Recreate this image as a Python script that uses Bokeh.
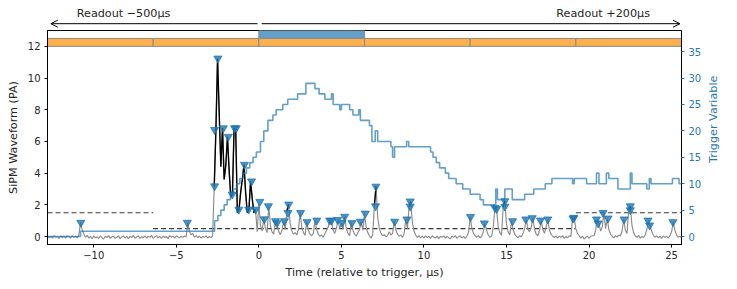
import math
import numpy as np
from bokeh.plotting import figure
from bokeh.layouts import column, row
from bokeh.models import Range1d, LinearAxis, Arrow, OpenHead, Label, FixedTicker
from bokeh.embed import file_html
from bokeh.resources import INLINE

# ---------------- data ----------------
T_START = -12.8          # first sample time (us)
T_STEP = 0.1             # sample spacing (us)
# SiPM waveform samples (PA), one row per microsecond
wave_rows = [
    [0.05, -0.08, 0.02, -0.10, 0.06, -0.04, 0.00, -0.12, 0.04, -0.06],
    [0.03, -0.10, 0.05, -0.02, -0.09, 0.04, -0.05, 0.02, -0.08, 0.10],
    [0.88, 0.42, 0.18, -0.05, 0.08, -0.10, 0.02, -0.14, 0.05, -0.07],
    [-0.02, -0.12, 0.04, -0.08, -0.15, 0.02, -0.06, 0.06, -0.10, -0.03],
    [0.03, -0.11, -0.04, 0.05, -0.13, -0.02, 0.04, -0.09, 0.01, -0.14],
    [0.02, -0.06, 0.07, -0.10, -0.03, 0.05, -0.12, 0.00, -0.07, 0.04],
    [-0.09, 0.03, -0.05, 0.08, -0.11, -0.02, 0.05, -0.08, 0.02, -0.12],
    [0.04, -0.06, 0.01, -0.13, 0.06, -0.04, 0.03, -0.10, 0.05, -0.02],
    [-0.08, 0.02, -0.05, 0.04, -0.02, 0.88, 0.30, 0.12, 0.20, -0.04],
    [0.06, -0.07, 0.03, -0.10, 0.02, -0.05, 0.04, -0.09, 0.01, -0.06],
    [0.05, 3.18, 6.74, 11.24, 7.80, 4.40, 6.84, 3.60, 4.50, 6.30],
    [4.20, 2.50, 2.66, 6.84, 6.70, 1.50, 1.71, 2.80, 3.60, 4.54],
    [2.80, 1.50, 1.71, 3.49, 2.40, 1.50, 1.71, 0.30, 2.13, 0.70],
    [0.35, 1.19, 0.50, 0.25, 1.92, 0.70, 0.30, 0.15, 0.98, 0.85],
    [0.35, 0.12, 0.40, 0.98, 0.45, 1.60, 2.03, 0.80, 0.35, 0.15],
    [0.25, 0.10, 0.45, 1.50, 0.60, 0.25, 0.08, 0.92, 0.40, 0.15],
    [0.05, 0.20, 1.02, 0.45, 0.15, 0.02, 0.10, -0.05, 0.20, 0.40],
    [0.60, 1.02, 1.00, 0.40, 0.20, 0.55, 1.04, 0.50, 0.88, 0.45],
    [1.26, 0.50, 0.20, 0.05, 0.88, 0.40, 0.15, 0.02, 0.25, 0.45],
    [0.95, 0.40, 1.46, 0.60, 0.25, 0.05, -0.10, 0.15, 1.97, 3.18],
    [1.20, 0.50, 0.20, 0.05, 0.12, -0.02, 0.08, 0.30, 0.10, 0.20],
    [0.98, 0.40, 0.15, 0.02, 0.10, -0.05, 0.20, 1.09, 0.50, 1.90],
    [2.20, 0.90, 0.35, 0.10, -0.05, 0.05, -0.08, 0.03, -0.10, 0.04],
    [-0.06, 0.02, -0.12, 0.05, -0.04, -0.09, 0.03, -0.13, 0.01, -0.05],
    [0.04, -0.10, 0.02, -0.07, -0.14, 0.03, -0.05, 0.06, -0.11, -0.02],
    [0.05, -0.08, 0.01, -0.12, 0.04, 0.25, 1.26, 0.55, 0.20, 0.05],
    [-0.04, 0.06, -0.08, 0.02, 0.30, 0.84, 0.35, 0.10, -0.05, 0.03],
    [0.60, 1.82, 1.75, 0.60, 0.25, 0.08, 1.90, 2.24, 0.80, 0.30],
    [0.10, 0.98, 0.45, 0.15, 0.02, -0.08, 0.05, -0.03, 0.20, 0.50],
    [1.09, 0.45, 0.30, 0.60, 1.17, 0.45, 0.15, 0.05, 0.40, 1.02],
    [0.45, 0.20, 0.60, 1.09, 0.40, 0.15, 0.02, -0.06, 0.04, -0.10],
    [0.03, -0.05, 0.06, -0.12, 0.02, -0.08, 0.05, 0.00, 1.15, 1.19],
    [0.50, 0.20, 0.05, -0.10, 0.03, -0.15, -0.05, 0.04, -0.12, 0.02],
    [0.05, 0.05, 0.40, 1.09, 0.84, 0.35, 0.60, 1.50, 0.50, 1.15],
    [0.45, 0.15, 0.02, -0.08, 0.05, -0.03, 0.10, 0.03, 0.35, 1.09],
    [0.40, 0.20, 1.67, 1.92, 0.70, 0.25, 0.05, -0.05, 0.08, -0.10],
    [0.02, -0.06, 0.10, 0.45, 1.02, 0.71, 0.30, 0.08, -0.04, 0.05],
    [-0.08, 0.03, -0.12, 0.04, -0.05, 0.02, -0.10, 0.06, 0.30, 0.92],
    [0.40, 0.10, -0.05, 0.03, -0.08],
]

# waveform portions drawn in black (start, end) in us
black_spans = [(-2.7, -0.2), (1.7, 1.8), (7.0, 7.1), (9.1, 9.2),
               (14.3, 14.4), (14.8, 14.9), (22.4, 22.5)]

# detected peaks
peak_t = [-10.78, -4.33, -2.68, -2.68, -2.48, -2.15, -1.85, -1.61, -1.47, -1.37,
          -1.21, -0.87, -0.62, -0.44, -0.20, 0.06, 0.33, 0.58, 1.01, 1.10,
          1.55, 1.77, 1.81, 2.53, 2.92, 3.51, 4.29, 4.40, 4.77, 5.04,
          5.20, 5.64, 6.15, 6.45, 7.07, 7.09, 8.23, 8.97, 9.17, 9.17,
          12.82, 13.66, 14.30, 14.40, 14.90, 14.90, 15.37, 16.17, 16.56, 17.06,
          17.50, 19.03, 19.08, 20.45, 20.55, 20.85, 21.15, 22.12, 22.50, 22.50,
          23.57, 23.67, 25.08]
peak_v = [0.88, 0.88, 3.18, 6.74, 11.24, 6.84, 6.30, 2.66, 6.84, 6.84,
          1.71, 4.54, 1.71, 3.49, 1.71, 2.20, 1.10, 1.92, 0.98, 0.85,
          0.98, 1.50, 2.03, 1.50, 0.92, 1.02, 1.02, 1.00, 1.06, 0.88,
          1.26, 0.86, 0.95, 1.46, 1.92, 3.16, 0.95, 1.09, 1.90, 2.22,
          1.25, 0.84, 1.82, 1.75, 1.90, 2.24, 0.98, 1.09, 1.17, 1.02,
          1.09, 1.15, 1.19, 1.09, 0.84, 1.50, 1.15, 1.09, 1.67, 1.92,
          1.02, 0.71, 0.92]

# trigger variable (step, value holds after each time)
trig_t = [-12.8, -10.8, -2.68, -2.48, -2.3, -2.1, -1.92, -1.72, -1.55, -1.35,
          -1.15, -0.95, -0.75, -0.55, -0.35, -0.15, 0.1, 0.3, 0.55, 0.85,
          1.05, 1.45, 1.75, 2.35, 2.85, 3.4, 3.65, 4.0, 4.4, 4.5,
          4.9, 5.0, 5.5, 5.7, 6.05, 6.15, 6.7, 6.85, 7.05, 7.2,
          8.0, 8.1, 8.22, 8.95, 9.08, 10.4, 10.55, 10.75, 10.95, 11.3,
          11.5, 11.95, 12.35, 12.8, 13.4, 13.6, 14.35, 14.45, 14.9, 15.35,
          16.1, 16.65, 17.35, 17.75, 19.0, 19.1, 19.85, 20.45, 20.6, 21.05,
          21.2, 21.75, 22.5, 22.6, 23.5, 23.65, 23.75, 25.05, 25.45, 25.6]
trig_v = [0, 1, 3, 4, 5, 6, 7, 8, 9, 10,
          11, 12, 13, 14, 15, 16, 18, 20, 22, 23,
          24, 25, 26, 27, 29, 28, 27, 26, 27, 25,
          24, 25, 24, 23, 24, 22, 21, 18, 20, 18,
          17, 15, 17, 18, 17, 16, 15, 14, 13, 12,
          11, 10, 9, 8, 7, 6, 9, 7, 9, 7,
          8, 9, 10, 11, 10, 11, 10, 12, 10, 12,
          11, 9, 12, 10, 9, 11, 10, 11, 10, 10]

# readout blocks
block_edges = [-12.8, -6.4, 0.0, 6.4, 12.8, 19.2, 25.6]
block_thresh = [1.5, 0.5, 0.5, 0.5, 0.5, 1.5]
block_trig = [0, 0, 1, 0, 0, 0]

x_ticks = [-10, -5, 0, 5, 10, 15, 20, 25]
y_ticks = [0, 2, 4, 6, 8, 10, 12]
trig_ticks = [0, 5, 10, 15, 20, 25, 30, 35]

readout_left = "Readout \u2212500\u00b5s"
readout_right = "Readout +200\u00b5s"
x_label = "Time (relative to trigger, \u00b5s)"
y_label = "SiPM Waveform (PA)"
trig_label = "Trigger Variable"

# ---------------- layout ----------------
FONT = "DejaVu Sans"
BLUE = "#1f77b4"
TXT = "#262626"
LABEL_SIZE = "11.2px"
TICK_SIZE = "10px"
W = 737
TOP_H = 29
MAIN_H = 260
SIDE_W = 33
BL, BR = 47, 55

wave = np.concatenate([np.array(r, dtype=float) for r in wave_rows])
t = T_START + T_STEP * np.arange(len(wave))

xr = Range1d(block_edges[0], block_edges[-1])


def blank(fig):
    fig.grid.visible = False
    fig.outline_line_color = None
    fig.background_fill_color = "white"
    fig.border_fill_color = "white"


# ---- top strip with readout arrows ----
top = figure(width=W, height=TOP_H, x_range=xr, y_range=Range1d(0, 1),
             output_backend="svg", toolbar_location=None,
             x_axis_location=None, y_axis_location=None,
             min_border_left=BL, min_border_right=BR, min_border_top=0, min_border_bottom=0)
blank(top)
ARROW_Y = 0.20
TEXT_Y = 0.55
for xs, xe in ((-0.1, -12.6), (0.15, 25.45)):
    top.add_layout(Arrow(end=OpenHead(size=7, line_width=1, line_color="black"),
                         x_start=xs, y_start=ARROW_Y, x_end=xe, y_end=ARROW_Y,
                         line_color="black", line_width=1))
for xc, txt in ((-8.2, readout_left), (20.8, readout_right)):
    top.add_layout(Label(x=xc, y=TEXT_Y, text=txt, text_align="center",
                         text_baseline="alphabetic", text_font=FONT,
                         text_font_size=LABEL_SIZE, text_color=TXT))

# ---- main plot ----
p = figure(width=W - SIDE_W, height=MAIN_H, x_range=xr, y_range=Range1d(-0.5, 13),
           output_backend="svg", toolbar_location=None,
           min_border_left=BL, min_border_right=BR - SIDE_W, min_border_top=1,
           min_border_bottom=45)
p.extra_y_ranges = {"trig": Range1d(-1.5, 39)}
p.grid.visible = False
p.outline_line_color = "black"
p.outline_line_alpha = 1.0
p.outline_line_width = 1
p.background_fill_color = "white"
p.border_fill_color = "white"

lefts = block_edges[:-1]
rights = block_edges[1:]
p.quad(left=lefts, right=rights, bottom=12.0, top=12.5,
       fill_color="#fdb04c", line_color="#8a8a8a", line_width=1)
tl = [l for l, f in zip(lefts, block_trig) if f]
tr = [r for r, f in zip(rights, block_trig) if f]
p.quad(left=tl, right=tr, bottom=12.5, top=13.0,
       fill_color="#62a0ca", line_color="#8a8a8a", line_width=1)

p.segment(x0=lefts, x1=rights, y0=block_thresh, y1=block_thresh,
          line_color="#3a3a3a", line_width=1.1, line_dash="5 3")

p.line(t, wave, line_color="#8c8c8c", line_width=1.15)
bx, by = [], []
for a, b in black_spans:
    m = (t >= a - 1e-6) & (t <= b + 1e-6)
    bx.append(list(t[m]))
    by.append(list(wave[m]))
p.multi_line(bx, by, line_color="black", line_width=1.4)

p.scatter(peak_t, peak_v, marker="inverted_triangle", size=8,
          fill_color=BLUE, line_color=BLUE, fill_alpha=0.8, line_alpha=0.8)

p.step(trig_t, trig_v, mode="after", y_range_name="trig",
       line_color=BLUE, line_alpha=0.7, line_width=1.6)

raxis = LinearAxis(y_range_name="trig")
p.add_layout(raxis, "right")
xa = p.xaxis[0]
ya = p.yaxis[0]
xa.ticker = FixedTicker(ticks=x_ticks)
ya.ticker = FixedTicker(ticks=y_ticks)
raxis.ticker = FixedTicker(ticks=trig_ticks)
xa.major_label_overrides = {v: (("\u2212" + str(-v)) if v < 0 else str(v)) for v in x_ticks}
xa.axis_label = x_label
ya.axis_label = y_label
for ax in (xa, ya, raxis):
    ax.major_tick_out = 3
    ax.major_tick_in = 0
    ax.minor_tick_out = 0
    ax.minor_tick_in = 0
    ax.axis_line_color = "black"
    ax.major_tick_line_color = "black"
    ax.major_label_text_font = FONT
    ax.major_label_text_font_size = TICK_SIZE
    ax.major_label_text_color = TXT
    ax.axis_label_text_font = FONT
    ax.axis_label_text_font_size = LABEL_SIZE
    ax.axis_label_text_font_style = "normal"
    ax.axis_label_text_color = TXT
    ax.major_label_standoff = 4
    ax.axis_label_standoff = 5
raxis.major_label_text_color = BLUE
raxis.major_tick_line_color = BLUE
xa.major_label_standoff = 3
xa.axis_label_standoff = 4

# ---- side strip carrying the right axis title (reads bottom to top) ----
side = figure(width=SIDE_W, height=MAIN_H, x_range=Range1d(0, 1), y_range=Range1d(0, 1),
              output_backend="svg", toolbar_location=None,
              x_axis_location=None, y_axis_location=None,
              min_border_left=0, min_border_right=0, min_border_top=0, min_border_bottom=0)
blank(side)
side.add_layout(Label(x=0.27, y=0.585, text=trig_label, angle=math.pi / 2,
                      text_align="center", text_baseline="middle", text_font=FONT,
                      text_font_size=LABEL_SIZE, text_color=BLUE))

layout = column(top, row(p, side, spacing=0), spacing=0)
open("out.html", "w").write(file_html(layout, INLINE))
